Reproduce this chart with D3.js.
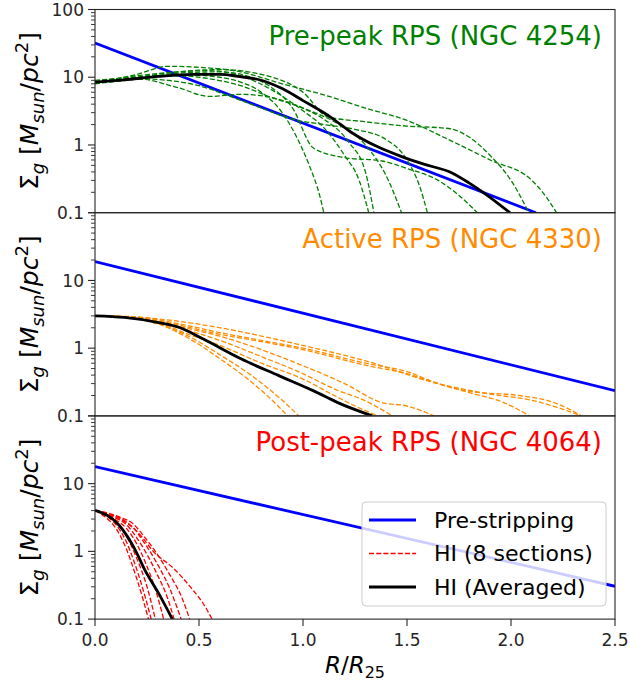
<!DOCTYPE html>
<html><head><meta charset="utf-8">
<script src="https://cdn.jsdelivr.net/npm/d3@7"></script>
<style>body{margin:0;background:#fff}svg{display:block;font-family:"DejaVu Sans",sans-serif}</style>
</head><body><svg id="c" width="630" height="685"></svg>
<script>
// ---------------- data ----------------
const xTicks = [0, 0.5, 1.0, 1.5, 2.0, 2.5];
const xTickLabels = ["0.0", "0.5", "1.0", "1.5", "2.0", "2.5"];
const yMajor = [0.1, 1, 10, 100];
const yMajorLabels = ["0.1", "1", "10", "100"];
const panelTitles = ["Pre-peak RPS (NGC 4254)", "Active RPS (NGC 4330)", "Post-peak RPS (NGC 4064)"];
const panelColors = ["#008000", "#ff8c00", "#ff0000"];
const legendLabels = ["Pre-stripping", "HI (8 sections)", "HI (Averaged)"];

// pre-stripping (exponential) profiles: [R, Sigma]
const blueTop = [[0, 32], [2.12, 0.1]];
const blueMid = [[0, 19], [2.5, 0.235]];
const blueBot = [[0, 17.8], [2.5, 0.305]];

// averaged HI profiles
const avgTop = [[0, 8.45], [0.141, 9.16], [0.306, 10.3], [0.472, 11.0], [0.604, 11.0], [0.687, 10.3], [0.803, 8.95], [0.902, 6.74], [1.0, 4.52], [1.134, 2.56], [1.233, 1.53], [1.349, 0.97], [1.465, 0.69], [1.581, 0.52], [1.714, 0.39], [1.796, 0.278], [1.879, 0.187], [1.995, 0.1]];
const avgMid = [[0, 3.0], [0.141, 2.84], [0.306, 2.39], [0.406, 2.02], [0.521, 1.36], [0.704, 0.69], [0.886, 0.39], [1.051, 0.234], [1.167, 0.157], [1.333, 0.1]];
const avgBot = [[0, 4.03], [0.116, 2.43], [0.19, 1.10], [0.24, 0.53], [0.306, 0.24], [0.372, 0.1]];

// HI sections (8 per galaxy)
const greenSections = [
  [[0, 8.2], [0.15, 9.0], [0.3, 10.2], [0.45, 10.8], [0.6, 10.0], [0.7, 8.5], [0.8, 6.0], [0.9, 3.0], [0.97, 1.3], [1.03, 0.5], [1.08, 0.18], [1.10, 0.1]],
  [[0, 8.5], [0.2, 10.5], [0.4, 12], [0.55, 12.5], [0.7, 10.5], [0.85, 6.5], [1.0, 3.2], [1.1, 1.8], [1.2, 0.7], [1.27, 0.3], [1.316, 0.1]],
  [[0, 9], [0.2, 10], [0.4, 10.5], [0.55, 9.5], [0.7, 7.5], [0.85, 5], [1.0, 3.5], [1.1, 2.4], [1.22, 1.1], [1.3, 0.4], [1.341, 0.1]],
  [[0, 8.3], [0.2, 9.5], [0.4, 7.0], [0.55, 5.2], [0.7, 5.6], [0.85, 5.0], [1.0, 3.5], [1.15, 2.2], [1.3, 1.0], [1.4, 0.35], [1.474, 0.1]],
  [[0, 8.5], [0.2, 9.5], [0.35, 9.0], [0.5, 7.5], [0.65, 5.2], [0.8, 3.5], [0.95, 2.4], [1.1, 2.0], [1.25, 1.7], [1.4, 1.2], [1.5, 0.6], [1.56, 0.25], [1.598, 0.1]],
  [[0, 8.0], [0.2, 9.5], [0.4, 11.5], [0.6, 12], [0.75, 10], [0.85, 7], [0.95, 3.5], [1.05, 0.9], [1.2, 0.65], [1.38, 0.58], [1.5, 0.45], [1.65, 0.3], [1.75, 0.18], [1.838, 0.1]],
  [[0, 8.5], [0.2, 10], [0.4, 12], [0.6, 13], [0.8, 11], [1.0, 6], [1.12, 2.6], [1.3, 2.2], [1.5, 1.9], [1.7, 1.75], [1.8, 1.3], [1.9, 0.7], [2.0, 0.3], [2.086, 0.1]],
  [[0, 8.2], [0.2, 11], [0.35, 14.5], [0.5, 14], [0.7, 12], [0.9, 8], [1.1, 5.5], [1.3, 3.5], [1.5, 2.3], [1.7, 1.2], [1.9, 0.6], [2.1, 0.3], [2.17, 0.17], [2.219, 0.1]]
];
const orangeSections = [
  [[0, 3], [0.15, 2.85], [0.3, 2.3], [0.45, 1.4], [0.6, 0.7], [0.75, 0.32], [0.88, 0.14], [0.925, 0.1]],
  [[0, 3], [0.15, 2.85], [0.3, 2.3], [0.45, 1.5], [0.6, 0.8], [0.75, 0.4], [0.9, 0.17], [0.98, 0.1]],
  [[0, 3], [0.15, 2.9], [0.3, 2.4], [0.45, 1.6], [0.6, 1.1], [0.8, 0.6], [1.0, 0.35], [1.15, 0.2], [1.25, 0.14], [1.36, 0.1]],
  [[0, 3], [0.2, 2.8], [0.4, 2.0], [0.6, 1.3], [0.8, 0.75], [1.0, 0.42], [1.15, 0.25], [1.3, 0.167], [1.43, 0.1]],
  [[0, 3], [0.2, 2.85], [0.4, 2.1], [0.6, 1.5], [0.8, 0.95], [1.0, 0.55], [1.2, 0.3], [1.38, 0.157], [1.5, 0.14], [1.63, 0.1]],
  [[0, 3], [0.2, 2.85], [0.4, 2.2], [0.6, 1.6], [0.8, 1.25], [1.0, 0.95], [1.3, 0.56], [1.5, 0.42], [1.68, 0.28], [1.8, 0.22], [1.96, 0.16], [2.09, 0.1]],
  [[0, 3], [0.2, 2.9], [0.4, 2.3], [0.6, 1.7], [0.8, 1.3], [1.0, 1.0], [1.3, 0.6], [1.5, 0.45], [1.65, 0.3], [1.8, 0.23], [2.04, 0.2], [2.2, 0.16], [2.34, 0.1]],
  [[0, 3], [0.31, 2.69], [0.637, 1.91], [0.97, 1.15], [1.3, 0.65], [1.63, 0.31], [1.9, 0.21], [2.1, 0.17], [2.34, 0.1]]
];
const redSections = [
  [[0, 4], [0.05, 3.2], [0.1, 2.2], [0.15, 1.1], [0.2, 0.4], [0.23, 0.2], [0.257, 0.1]],
  [[0, 4], [0.05, 3.4], [0.1, 2.5], [0.15, 1.4], [0.2, 0.55], [0.24, 0.22], [0.27, 0.1]],
  [[0, 4], [0.05, 3.5], [0.1, 2.7], [0.15, 1.7], [0.2, 0.8], [0.25, 0.3], [0.29, 0.1]],
  [[0, 4], [0.05, 3.5], [0.1, 2.9], [0.15, 2.2], [0.2, 1.3], [0.25, 0.6], [0.3, 0.22], [0.33, 0.1]],
  [[0, 4], [0.05, 3.6], [0.1, 3.1], [0.15, 2.5], [0.2, 1.6], [0.25, 0.9], [0.3, 0.45], [0.35, 0.2], [0.38, 0.1]],
  [[0, 4], [0.06, 3.6], [0.12, 3.1], [0.18, 2.3], [0.24, 1.3], [0.3, 0.65], [0.36, 0.28], [0.414, 0.1]],
  [[0, 4], [0.06, 3.7], [0.12, 3.2], [0.18, 2.6], [0.24, 1.6], [0.3, 0.9], [0.36, 0.45], [0.42, 0.2], [0.455, 0.1]],
  [[0, 4], [0.07, 3.5], [0.13, 2.9], [0.2, 2.0], [0.29, 0.93], [0.37, 0.59], [0.47, 0.27], [0.52, 0.17], [0.563, 0.1]]
];

// ---------------- layout ----------------
const svg = d3.select("#c");
const L = 95, R = 615, T = 9.5, B = 619.1;
const H = (B - T) / 3;
const x = d3.scaleLinear().domain([0, 2.5]).range([L, R]);
const axisColor = "#262626";

const panels = [
  {blue: blueTop, avg: avgTop, secs: greenSections},
  {blue: blueMid, avg: avgMid, secs: orangeSections},
  {blue: blueBot, avg: avgBot, secs: redSections}
];

const defs = svg.append("defs");

panels.forEach((p, i) => {
  const top = T + i * H;
  const y = d3.scaleLog().domain([0.1, 100]).range([top + H, top]);
  const line = d3.line().x(d => x(d[0])).y(d => y(d[1])).curve(d3.curveMonotoneX);
  const straight = d3.line().x(d => x(d[0])).y(d => y(d[1]));

  defs.append("clipPath").attr("id", "clip" + i)
    .append("rect").attr("x", L).attr("y", top).attr("width", R - L).attr("height", H);

  const g = svg.append("g").attr("clip-path", `url(#clip${i})`);
  g.append("path").attr("d", straight(p.blue)).attr("fill", "none")
    .attr("stroke", "#0000ff").attr("stroke-width", 2.8);
  p.secs.forEach(s => {
    g.append("path").attr("d", line(s)).attr("fill", "none")
      .attr("stroke", panelColors[i]).attr("stroke-width", 1.3)
      .attr("stroke-dasharray", "5,2.2");
  });
  g.append("path").attr("d", line(p.avg)).attr("fill", "none")
    .attr("stroke", "#000").attr("stroke-width", 2.8).attr("stroke-linejoin", "round");

  // title
  svg.append("text").attr("x", 602).attr("y", top + 35.5).attr("text-anchor", "end")
    .attr("font-size", 26).attr("fill", panelColors[i]).text(panelTitles[i]);

  // y ticks (minor)
  const minors = [];
  [0.1, 1, 10].forEach(d => { for (let k = 2; k <= 9; k++) minors.push(d * k); });
  svg.append("g").selectAll("line").data(minors).join("line")
    .attr("x1", L - 4).attr("x2", L).attr("y1", d => y(d)).attr("y2", d => y(d))
    .attr("stroke", axisColor).attr("stroke-width", 0.9);
  const majors = yMajor.map((v, k) => ({v, lab: yMajorLabels[k]}));
  svg.append("g").selectAll("line").data(majors).join("line")
    .attr("x1", L - 7).attr("x2", L).attr("y1", d => y(d.v)).attr("y2", d => y(d.v))
    .attr("stroke", axisColor).attr("stroke-width", 1.1);
  svg.append("g").selectAll("text").data(majors.filter(d => i === 0 || d.v < 100)).join("text")
    .attr("x", L - 11).attr("y", d => y(d.v)).attr("dy", "0.36em").attr("text-anchor", "end")
    .attr("font-size", 17).attr("fill", axisColor).text(d => d.lab);

  // spines
  svg.append("rect").attr("x", L).attr("y", top).attr("width", R - L).attr("height", H)
    .attr("fill", "none").attr("stroke", axisColor).attr("stroke-width", 1.1);

  // y label
  const yl = svg.append("text").attr("transform", `translate(38,${top + H / 2}) rotate(-90)`)
    .attr("text-anchor", "middle").attr("font-size", 25).attr("fill", "#000");
  yl.append("tspan").text("Σ");
  yl.append("tspan").text("g").attr("font-style", "italic").attr("font-size", 18).attr("dy", 6);
  yl.append("tspan").text(" [").attr("dy", -6);
  yl.append("tspan").text("M").attr("font-style", "italic");
  yl.append("tspan").text("sun").attr("font-style", "italic").attr("font-size", 18).attr("dy", 6);
  yl.append("tspan").text("/").attr("dy", -6);
  yl.append("tspan").text("pc").attr("font-style", "italic");
  yl.append("tspan").text("2").attr("font-size", 18).attr("dy", -10);
  yl.append("tspan").text("]").attr("dy", 10);
});

// x axis (bottom panel only)
const xg = svg.append("g");
xg.selectAll("line").data(xTicks).join("line")
  .attr("x1", d => x(d)).attr("x2", d => x(d)).attr("y1", B).attr("y2", B + 7)
  .attr("stroke", axisColor).attr("stroke-width", 1.1);
xg.selectAll("text").data(xTicks).join("text")
  .attr("x", d => x(d)).attr("y", B + 27).attr("text-anchor", "middle")
  .attr("font-size", 17).attr("fill", axisColor).text((d, k) => xTickLabels[k]);

const xl = svg.append("text").attr("x", (L + R) / 2).attr("y", 673).attr("text-anchor", "middle")
  .attr("font-size", 23).attr("fill", "#000");
xl.append("tspan").text("R").attr("font-style", "italic");
xl.append("tspan").text("/");
xl.append("tspan").text("R").attr("font-style", "italic");
xl.append("tspan").text("25").attr("font-size", 16).attr("dy", 5);

// legend
const lg = svg.append("g");
lg.append("rect").attr("x", 362).attr("y", 502).attr("width", 244).attr("height", 104).attr("rx", 4)
  .attr("fill", "#fff").attr("fill-opacity", 0.8).attr("stroke", "#cccccc").attr("stroke-width", 1);
const legStyles = [
  {c: "#0000ff", w: 2.8, dash: null},
  {c: "#ff0000", w: 1.3, dash: "5,2.2"},
  {c: "#000000", w: 2.8, dash: null}
];
legendLabels.forEach((lab, k) => {
  const yy = 520 + k * 33.5;
  lg.append("line").attr("x1", 369).attr("x2", 416).attr("y1", yy).attr("y2", yy)
    .attr("stroke", legStyles[k].c).attr("stroke-width", legStyles[k].w)
    .attr("stroke-dasharray", legStyles[k].dash);
  lg.append("text").attr("x", 434).attr("y", yy).attr("dy", "0.36em")
    .attr("font-size", 22).attr("fill", "#000").text(lab);
});
</script></body></html>
